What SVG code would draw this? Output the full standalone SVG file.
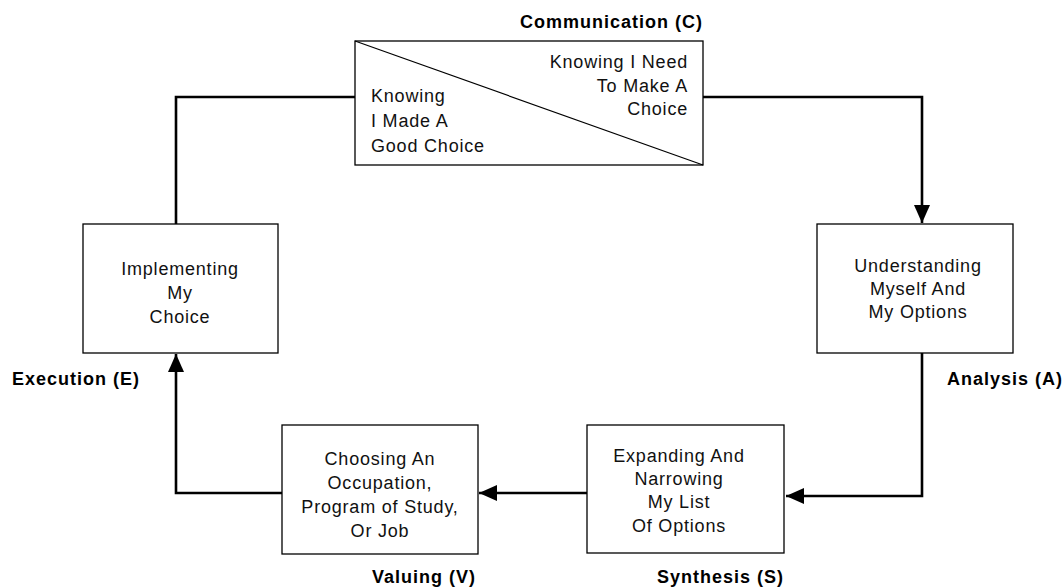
<svg xmlns="http://www.w3.org/2000/svg" width="1063" height="588" viewBox="0 0 1063 588">
<style>
.box{fill:#fff;stroke:#000;stroke-width:1.3}
.t{font-family:"Liberation Sans",Arial,sans-serif;font-size:18px;letter-spacing:0.8px;fill:#111}
.c{text-anchor:middle}
.lab{font-family:"Liberation Sans",Arial,sans-serif;font-size:18px;font-weight:bold;letter-spacing:1px;fill:#000}
.con{fill:none;stroke:#000;stroke-width:2.6}
</style>
<defs>
<marker id="arr" markerUnits="userSpaceOnUse" markerWidth="18" markerHeight="16" refX="18" refY="8" orient="auto">
<path d="M0,0 L18,8 L0,16 Z" fill="#000"/>
</marker>
</defs>
<rect width="1063" height="588" fill="#fff"/>
<g id="connectors">
<path class="con" d="M703,97 H922 V223" marker-end="url(#arr)"/>
<path class="con" d="M922,353 V496 H786" marker-end="url(#arr)"/>
<path class="con" d="M587,493 H479" marker-end="url(#arr)"/>
<path class="con" d="M282,493 H176 V354" marker-end="url(#arr)"/>
<path class="con" d="M176,224 V97 H355"/>
</g>
<g id="communication">
<rect class="box" x="355" y="41" width="348" height="124"/>
<line x1="355" y1="41" x2="703" y2="165" stroke="#000" stroke-width="1.2"/>
<text class="t" x="371" y="102">Knowing</text>
<text class="t" x="371" y="127">I Made A</text>
<text class="t" x="371" y="152">Good Choice</text>
<text class="t" x="688" y="68" text-anchor="end">Knowing I Need</text>
<text class="t" x="688" y="92" text-anchor="end">To Make A</text>
<text class="t" x="688" y="115" text-anchor="end">Choice</text>
<text class="lab" x="703" y="28" text-anchor="end">Communication (C)</text>
</g>
<g id="analysis">
<rect class="box" x="817" y="224" width="196" height="129"/>
<text class="t c" x="918" y="272">Understanding</text>
<text class="t c" x="918" y="295">Myself And</text>
<text class="t c" x="918" y="318">My Options</text>
<text class="lab" x="947" y="385">Analysis (A)</text>
</g>
<g id="synthesis">
<rect class="box" x="587" y="425" width="197" height="128"/>
<text class="t c" x="679" y="462">Expanding And</text>
<text class="t c" x="679" y="485">Narrowing</text>
<text class="t c" x="679" y="508">My List</text>
<text class="t c" x="679" y="532">Of Options</text>
<text class="lab" x="657" y="583">Synthesis (S)</text>
</g>
<g id="valuing">
<rect class="box" x="282" y="425" width="196" height="129"/>
<text class="t c" x="380" y="465">Choosing An</text>
<text class="t c" x="380" y="489">Occupation,</text>
<text class="t c" x="380" y="513">Program of Study,</text>
<text class="t c" x="380" y="537">Or Job</text>
<text class="lab" x="372" y="583">Valuing (V)</text>
</g>
<g id="execution">
<rect class="box" x="83" y="224" width="195" height="129"/>
<text class="t c" x="180" y="275">Implementing</text>
<text class="t c" x="180" y="299">My</text>
<text class="t c" x="180" y="323">Choice</text>
<text class="lab" x="12" y="385">Execution (E)</text>
</g>
</svg>
